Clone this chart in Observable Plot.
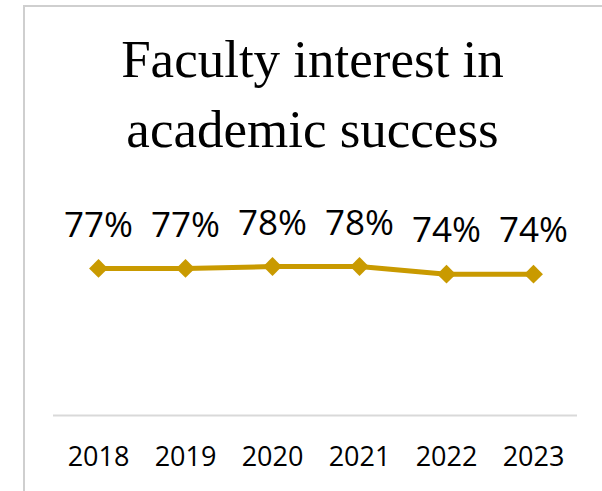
<!DOCTYPE html>
<html>
<head>
<meta charset="utf-8">
<script src="https://cdn.jsdelivr.net/npm/d3@7"></script>
<script src="https://cdn.jsdelivr.net/npm/@observablehq/plot@0.6"></script>
<style>
  html, body { margin: 0; padding: 0; background: #fff; }
  #wrap { position: relative; width: 602px; height: 491px; overflow: hidden; }
  #frame { position: absolute; left: 23px; top: 5px; width: 600px; height: 500px;
           border-left: 2px solid #cfcfcf; border-top: 2px solid #cfcfcf; }
  #title { position: absolute; left: 23px; width: 579px; top: 24px; text-align: center;
           font-family: "Liberation Serif", serif; font-size: 53px; line-height: 70px; color: #000; }
  #chart { position: absolute; left: 0; top: 0; }
</style>
</head>
<body>
<div id="wrap">
  <div id="frame"></div>
  <div id="chart"></div>
  <div id="title">Faculty interest in<br>academic success</div>
</div>
<script>
const years = ["2018", "2019", "2020", "2021", "2022", "2023"];
const values = [0.77, 0.77, 0.78, 0.78, 0.74, 0.74];
const labels = ["77%", "77%", "78%", "78%", "74%", "74%"];

const data = years.map((y, i) => ({year: y, value: values[i], label: labels[i]}));
const gold = "#c99a00";

const chart = Plot.plot({
  width: 602,
  height: 491,
  marginLeft: 53,
  marginRight: 25,
  marginTop: 224,
  marginBottom: 76,
  style: {background: "transparent", fontFamily: "'Open Sans', sans-serif"},
  x: {type: "point", domain: years, padding: 0.5, align: 0.5, label: null},
  y: {domain: [0, 1], axis: null},
  marks: [
    Plot.ruleY([0], {stroke: "#d9d9d9", strokeWidth: 2}),
    Plot.axisX({tickSize: 0, tickPadding: 31, fontSize: 27, fill: "#000", label: null}),
    Plot.line(data, {x: "year", y: "value", stroke: gold, strokeWidth: 5}),
    Plot.dot(data, {x: "year", y: "value", symbol: "diamond2", r: 8.5, fill: gold, stroke: null}),
    Plot.text(data, {x: "year", y: "value", text: "label", dy: -43, fontSize: 35, fill: "#000"})
  ]
});
document.getElementById("chart").appendChild(chart);
</script>
</body>
</html>
